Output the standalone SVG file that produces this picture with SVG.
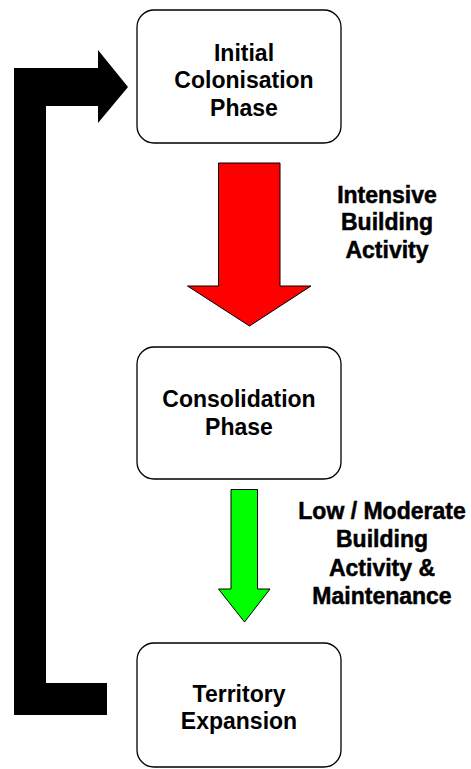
<svg xmlns="http://www.w3.org/2000/svg" width="471" height="769" viewBox="0 0 471 769">
  <style>
    .box { fill: #ffffff; stroke: #000000; stroke-width: 1.3; }
    .lbl { font-family: "Liberation Sans", Arial, sans-serif; font-weight: bold; font-size: 23px; fill: #000000; text-anchor: middle; }
    .flow { font-family: "Liberation Sans", Arial, sans-serif; font-weight: bold; font-size: 23px; fill: #000000; stroke: #000000; stroke-width: 0.5; text-anchor: middle; }
    .arrow { stroke: #000000; stroke-width: 1; stroke-linejoin: miter; }
  </style>

  <!-- connectors -->
  <g id="connectors">
    <!-- feedback loop back to the first phase -->
    <path id="loop" d="M107,683 L46,683 L46,106 L98,106 L98,123 L128,87 L98,50 L98,68 L14,68 L14,715 L107,715 Z" fill="#000000"/>
    <!-- intensive building -->
    <path id="red-arrow" class="arrow" fill="#ff0000" d="M218.5,163 L280,163 L280,286 L311,286 L249.5,326 L187.5,286 L218.5,286 Z"/>
    <!-- low/moderate building -->
    <path id="green-arrow" class="arrow" fill="#00ff00" d="M231,489.5 L257.5,489.5 L257.5,589 L270,589 L244.5,622 L218.5,589 L231,589 Z"/>
    <g id="red-label">
      <text class="flow" x="387" y="203">Intensive</text>
      <text class="flow" x="387" y="230">Building</text>
      <text class="flow" x="387" y="258">Activity</text>
    </g>
    <g id="green-label">
      <text class="flow" x="382" y="519">Low / Moderate</text>
      <text class="flow" x="382" y="547">Building</text>
      <text class="flow" x="382" y="576">Activity &amp;</text>
      <text class="flow" x="382" y="604">Maintenance</text>
    </g>
  </g>

  <g id="initial-colonisation">
    <rect class="box" x="137" y="10" width="204" height="133" rx="17" ry="17"/>
    <text class="lbl" x="244" y="61">Initial</text>
    <text class="lbl" x="244" y="88">Colonisation</text>
    <text class="lbl" x="244" y="116">Phase</text>
  </g>

  <g id="consolidation">
    <rect class="box" x="137" y="347" width="204" height="132" rx="17" ry="17"/>
    <text class="lbl" x="239" y="407">Consolidation</text>
    <text class="lbl" x="239" y="435">Phase</text>
  </g>

  <g id="territory-expansion">
    <rect class="box" x="137" y="643" width="204" height="124" rx="17" ry="17"/>
    <text class="lbl" x="239" y="702">Territory</text>
    <text class="lbl" x="239" y="729">Expansion</text>
  </g>
</svg>
